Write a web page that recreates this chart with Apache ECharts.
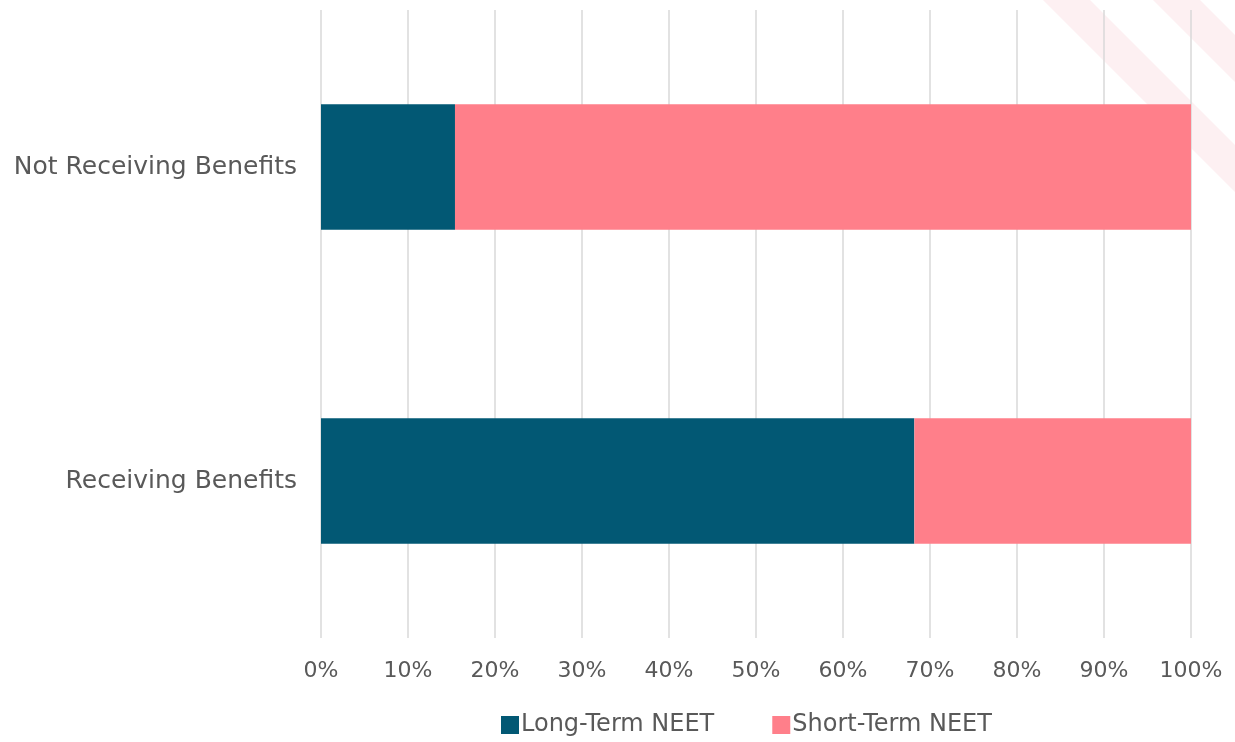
<!DOCTYPE html>
<html>
<head>
<meta charset="utf-8">
<script src="https://cdn.jsdelivr.net/npm/echarts@6/dist/echarts.min.js"></script>
<style>html,body{margin:0;padding:0;background:#fff}#c{width:1235px;height:742px}</style>
</head>
<body>
<div id="c"></div>
<script>
const categories = ['Receiving Benefits', 'Not Receiving Benefits'];
const longTerm = [68.2, 15.4];
const shortTerm = [31.8, 84.6];
const seriesNames = ['Long-Term NEET', 'Short-Term NEET'];

const chart = echarts.init(document.getElementById('c'));
const font = 'DejaVu Sans';
chart.setOption({
  animation: false,
  graphic: [
    { type: 'polygon', z: -10, shape: { points: [[1043,0],[1090,0],[1235,145],[1235,192]] }, style: { fill: '#fdf0f2' } },
    { type: 'polygon', z: -10, shape: { points: [[1153,0],[1200,0],[1235,35],[1235,82]] }, style: { fill: '#fdf0f2' } }
  ],
  grid: { left: 321, right: 44, top: 10, bottom: 104, containLabel: false },
  legend: {
    top: 708, left: 496, itemWidth: 18, itemHeight: 18, itemGap: 58,
    icon: 'rect',
    textStyle: { fontFamily: font, fontSize: 24, color: '#595959', padding: [0,0,0,-3] },
    data: seriesNames
  },
  xAxis: {
    type: 'value', min: 0, max: 100, interval: 10,
    axisLabel: { formatter: '{value}%', fontFamily: font, fontSize: 22, color: '#595959', margin: 22 },
    axisLine: { show: false }, axisTick: { show: false },
    splitLine: { lineStyle: { color: '#d9d9d9', width: 1.5 } }
  },
  yAxis: {
    type: 'category', data: categories,
    axisLine: { show: false }, axisTick: { show: false },
    axisLabel: { fontFamily: font, fontSize: 25, color: '#595959', margin: 24 }
  },
  series: [
    { name: seriesNames[0], type: 'bar', stack: 'a', data: longTerm, barCategoryGap: '60%', itemStyle: { color: '#025874' } },
    { name: seriesNames[1], type: 'bar', stack: 'a', data: shortTerm, barCategoryGap: '60%', itemStyle: { color: '#ff7f8a' } }
  ]
});
</script>
</body>
</html>
